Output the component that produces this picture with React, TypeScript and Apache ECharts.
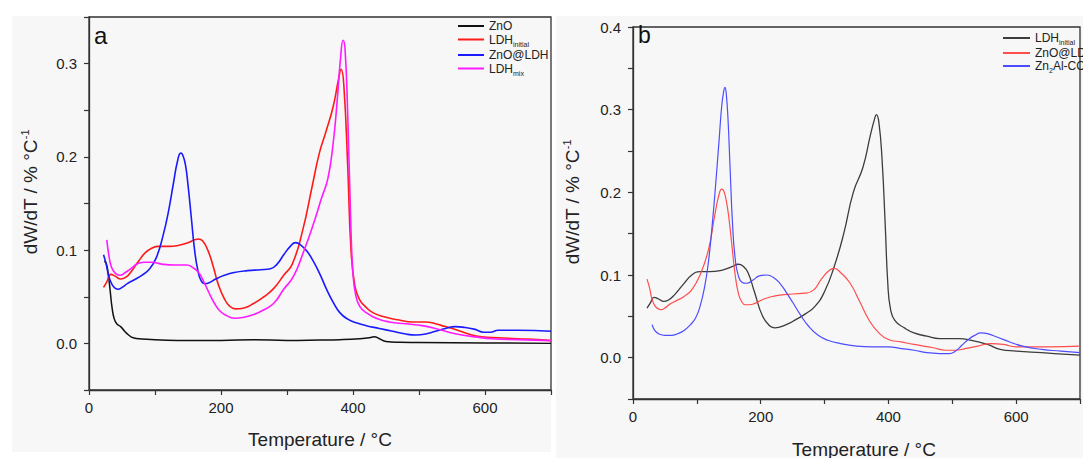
import React, { useEffect, useRef } from "react";
import * as echarts from "echarts";

const FONT = "'Liberation Sans', Arial, Helvetica, sans-serif";

// ---------- Panel a ----------
const aZnOT = [23, 26, 29, 32, 35, 38, 42, 48, 54, 60, 67, 80, 100, 150, 200, 250, 300, 350, 380, 410, 425, 432, 440, 450, 470, 500, 600, 700];
const aZnOV = [0.088, 0.086, 0.075, 0.057, 0.038, 0.027, 0.021, 0.018, 0.013, 0.009, 0.006, 0.0047, 0.004, 0.003, 0.003, 0.004, 0.003, 0.0035, 0.004, 0.005, 0.006, 0.007, 0.005, 0.002, 0.0012, 0.001, 0.0005, 0.0];

const aLdhIT = [22, 27, 33, 40, 48, 56, 65, 75, 85, 95, 105, 120, 135, 150, 160, 166, 172, 180, 188, 196, 205, 213, 222, 235, 250, 265, 280, 295, 308, 324, 338, 349, 359, 370, 378, 382, 386, 392, 397, 403, 410, 418, 430, 450, 470, 490, 510, 525, 540, 555, 575, 595, 620, 650, 680, 700];
const aLdhIV = [0.06, 0.066, 0.074, 0.072, 0.069, 0.071, 0.078, 0.088, 0.097, 0.102, 0.104, 0.104, 0.105, 0.108, 0.111, 0.112, 0.11, 0.1, 0.083, 0.063, 0.048, 0.04, 0.037, 0.038, 0.043, 0.05, 0.059, 0.073, 0.085, 0.122, 0.168, 0.204, 0.227, 0.254, 0.283, 0.294, 0.278, 0.19, 0.1, 0.061, 0.047, 0.04, 0.033, 0.028, 0.025, 0.023, 0.023, 0.021, 0.018, 0.015, 0.01, 0.007, 0.006, 0.005, 0.004, 0.003];

const aZnOLdhT = [22, 26, 30, 35, 40, 44, 50, 58, 68, 80, 92, 102, 112, 120, 128, 134, 139, 142, 146, 150, 155, 160, 165, 170, 176, 182, 192, 205, 220, 240, 260, 275, 285, 295, 305, 313, 320, 330, 340, 350, 360, 370, 380, 392, 405, 420, 440, 460, 480, 495, 510, 525, 540, 555, 570, 585, 598, 608, 620, 650, 700];
const aZnOLdhV = [0.095, 0.085, 0.072, 0.063, 0.059, 0.058, 0.06, 0.064, 0.068, 0.073, 0.08, 0.092, 0.115, 0.14, 0.172, 0.195, 0.204, 0.202, 0.192, 0.17, 0.135, 0.1, 0.078, 0.067, 0.064, 0.065, 0.069, 0.073, 0.076, 0.078, 0.079, 0.08, 0.085, 0.095, 0.104, 0.108, 0.106, 0.099, 0.088, 0.074, 0.058, 0.044, 0.033, 0.026, 0.022, 0.019, 0.016, 0.013, 0.01, 0.009, 0.01, 0.013, 0.016, 0.018, 0.017, 0.015, 0.012, 0.012, 0.014, 0.014, 0.013];

const aLdhMT = [27, 30, 34, 40, 47, 55, 65, 75, 85, 95, 110, 130, 148, 158, 166, 174, 182, 190, 198, 208, 220, 235, 250, 265, 280, 295, 310, 325, 340, 352, 362, 370, 376, 381, 385, 388, 392, 397, 400, 404, 410, 420, 435, 455, 480, 505, 525, 545, 565, 585, 610, 650, 700];
const aLdhMV = [0.111, 0.095, 0.082, 0.075, 0.073, 0.076, 0.081, 0.086, 0.087, 0.087, 0.085, 0.084, 0.084, 0.081, 0.076, 0.066, 0.054, 0.043, 0.035, 0.03, 0.027, 0.028, 0.031, 0.036, 0.043, 0.058, 0.072, 0.098, 0.128, 0.155, 0.177, 0.215, 0.26, 0.305, 0.325, 0.315, 0.245, 0.12, 0.075, 0.052, 0.04, 0.033, 0.027, 0.023, 0.021, 0.019, 0.016, 0.012, 0.009, 0.007, 0.005, 0.004, 0.003];

// ---------- Panel b ----------
const bLdhIT = [22, 27, 33, 40, 48, 56, 65, 78, 92, 105, 120, 140, 155, 165, 172, 180, 190, 203, 215, 222, 240, 255, 270, 285, 300, 315, 330, 345, 360, 372, 378, 381, 385, 390, 395, 399, 403, 410, 425, 440, 460, 480, 510, 530, 555, 575, 600, 640, 680, 700];
const bLdhIV = [0.06, 0.066, 0.073, 0.071, 0.068, 0.07, 0.076, 0.088, 0.1, 0.104, 0.104, 0.106, 0.11, 0.113, 0.111, 0.103, 0.08, 0.05, 0.038, 0.036, 0.04, 0.046, 0.053, 0.062, 0.08, 0.11, 0.15, 0.2, 0.23, 0.27, 0.288, 0.294, 0.285, 0.24, 0.16, 0.09, 0.06, 0.045, 0.036, 0.03, 0.026, 0.023, 0.023, 0.021, 0.016, 0.01, 0.008, 0.006, 0.004, 0.003];

const bZnOLdhT = [22, 26, 30, 35, 40, 44, 50, 58, 68, 80, 92, 105, 118, 128, 134, 139, 142, 146, 150, 155, 160, 165, 170, 176, 182, 192, 205, 225, 250, 270, 283, 295, 308, 315, 325, 340, 355, 370, 385, 400, 420, 440, 470, 490, 505, 520, 540, 560, 580, 600, 650, 700];
const bZnOLdhV = [0.095, 0.084, 0.07, 0.062, 0.059, 0.058, 0.06, 0.065, 0.069, 0.074, 0.082, 0.1, 0.13, 0.172, 0.195, 0.204, 0.202, 0.19, 0.17, 0.135, 0.1, 0.078, 0.068, 0.064, 0.064, 0.066, 0.071, 0.075, 0.077, 0.078, 0.082, 0.095, 0.106, 0.108, 0.103, 0.09, 0.068, 0.045, 0.03, 0.022, 0.019, 0.016, 0.012, 0.009, 0.009, 0.011, 0.014, 0.017, 0.016, 0.013, 0.013, 0.014];

const bZnAlT = [30, 34, 40, 50, 60, 70, 80, 90, 98, 105, 112, 118, 124, 130, 135, 139, 142, 144, 146, 149, 152, 156, 160, 165, 171, 178, 188, 198, 210, 220, 230, 240, 250, 262, 275, 290, 305, 325, 350, 375, 400, 420, 440, 460, 480, 495, 505, 515, 525, 535, 545, 555, 570, 590, 610, 640, 670, 700];
const bZnAlV = [0.04, 0.033, 0.029, 0.027, 0.027, 0.029, 0.033, 0.04, 0.048, 0.062, 0.085, 0.115, 0.16, 0.215, 0.265, 0.305, 0.322, 0.327, 0.32, 0.285, 0.23, 0.16, 0.12, 0.099, 0.091, 0.09, 0.094, 0.099, 0.1, 0.097, 0.09, 0.079, 0.067, 0.052, 0.038, 0.027, 0.021, 0.017, 0.014, 0.013, 0.013, 0.011, 0.009, 0.006, 0.005, 0.005, 0.008, 0.015, 0.022, 0.027, 0.03, 0.029, 0.025, 0.019, 0.014, 0.01, 0.008, 0.006];

const xTicksLabelled = [0, 200, 400, 600];

const zip = (xs: number[], ys: number[]) => xs.map((x, i) => [x, ys[i]]);

const legendLabels: Record<string, string> = {
  a_ZnO: "{m|ZnO}",
  a_LDHi: "{m|LDH}{s|initial}",
  a_ZnOLDH: "{m|ZnO@LDH}",
  a_LDHm: "{m|LDH}{s|mix}",
  b_LDHi: "{m|LDH}{s|initial}",
  b_ZnOLDH: "{m|ZnO@LDH}",
  b_ZnAl: "{m|Zn}{s|2}{m|Al-CO}{s|3}",
};

const legendRich = {
  m: { fontSize: 12, fontFamily: FONT, color: "#222", lineHeight: 16 },
  s: { fontSize: 7, fontFamily: FONT, color: "#222", lineHeight: 6, verticalAlign: "bottom" },
};

function makeX(gridIndex: number) {
  return {
    type: "value",
    gridIndex,
    min: 0,
    max: 700,
    interval: 100,
    axisLine: { onZero: false, lineStyle: { color: "#333", width: 1.3 } },
    axisTick: { inside: false, length: 5, lineStyle: { color: "#333", width: 1.2 } },
    splitLine: { show: false },
    axisLabel: {
      margin: 10,
      fontSize: 15,
      fontFamily: FONT,
      color: "#222",
      formatter: (v: number) => (xTicksLabelled.includes(v) ? String(v) : ""),
    },
  };
}

function makeY(gridIndex: number, max: number) {
  return {
    type: "value",
    gridIndex,
    min: -0.05,
    max,
    interval: 0.05,
    axisLine: { onZero: false, lineStyle: { color: "#333", width: 1.3 } },
    axisTick: { inside: false, length: 5, lineStyle: { color: "#333", width: 1.2 } },
    splitLine: { show: false },
    axisLabel: {
      margin: 12,
      fontSize: 15,
      fontFamily: FONT,
      color: "#222",
      formatter: (v: number) => {
        const t = Math.round(v * 100);
        if (t < 0 || t % 10 !== 0) return "";
        return (t / 100).toFixed(1);
      },
    },
  };
}

function line(name: string, xi: number, xs: number[], ys: number[], color: string, width: number) {
  return {
    type: "line",
    name,
    xAxisIndex: xi,
    yAxisIndex: xi,
    data: zip(xs, ys),
    showSymbol: false,
    symbol: "none",
    smooth: 0.5,
    lineStyle: { color, width, join: "round" },
    itemStyle: { color },
  };
}

const yTitleRich = {
  m: { fontSize: 19, fontFamily: FONT, fill: "#222", color: "#222", lineHeight: 22 },
  sup: { fontSize: 11, fontFamily: FONT, fill: "#222", color: "#222", lineHeight: 11, verticalAlign: "top" },
};

export default function App() {
  const ref = useRef<HTMLDivElement>(null);
  useEffect(() => {
    if (!ref.current) return;
    const chart = echarts.init(ref.current, undefined, { renderer: "svg" });
    const option: any = {
      animation: false,
      backgroundColor: "#ffffff",
      graphic: [
        { type: "rect", z: -10, silent: true, shape: { x: 12, y: 16, width: 539, height: 436 }, style: { fill: "#f7f7f7" } },
        { type: "rect", z: -10, silent: true, shape: { x: 556, y: 16, width: 527, height: 442 }, style: { fill: "#f7f7f7" } },
        { type: "text", x: 94, y: 35, style: { text: "a", fontSize: 24, fontFamily: FONT, fill: "#111", align: "left", verticalAlign: "middle" } },
        { type: "text", x: 638, y: 35, style: { text: "b", fontSize: 23, fontFamily: FONT, fill: "#111", align: "left", verticalAlign: "middle" } },
        { type: "text", x: 320, y: 439, style: { text: "Temperature / °C", fontSize: 19, fontFamily: FONT, fill: "#222", align: "center", verticalAlign: "middle" } },
        { type: "text", x: 864, y: 449, style: { text: "Temperature / °C", fontSize: 19, fontFamily: FONT, fill: "#222", align: "center", verticalAlign: "middle" } },
        {
          type: "text", x: 30, y: 192, rotation: Math.PI / 2,
          style: { text: "{m|dW/dT / % °C}{sup|-1}", rich: yTitleRich, align: "center", verticalAlign: "middle", fill: "#222" },
        },
        {
          type: "text", x: 572, y: 202, rotation: Math.PI / 2,
          style: { text: "{m|dW/dT / % °C}{sup|-1}", rich: yTitleRich, align: "center", verticalAlign: "middle", fill: "#222" },
        },
      ],
      grid: [
        { left: 89, top: 17, width: 462, height: 373, show: true, borderColor: "#333", borderWidth: 1.3, backgroundColor: "transparent" },
        { left: 633, top: 27, width: 463, height: 372, show: true, borderColor: "#333", borderWidth: 1.3, backgroundColor: "transparent" },
      ],
      xAxis: [makeX(0), makeX(1)],
      yAxis: [makeY(0, 0.35), makeY(1, 0.4)],
      legend: [
        {
          left: 453, top: 15, orient: "vertical", icon: "rect", itemWidth: 26, itemHeight: 2, itemGap: 1.5,
          selectedMode: false,
          data: ["a_ZnO", "a_LDHi", "a_ZnOLDH", "a_LDHm"],
          formatter: (n: string) => legendLabels[n],
          textStyle: { rich: legendRich, fontSize: 12, fontFamily: FONT, color: "#222" },
        },
        {
          left: 998, top: 27, orient: "vertical", icon: "rect", itemWidth: 27, itemHeight: 2, itemGap: 1,
          selectedMode: false,
          data: ["b_LDHi", "b_ZnOLDH", "b_ZnAl"],
          formatter: (n: string) => legendLabels[n],
          textStyle: { rich: legendRich, fontSize: 12, fontFamily: FONT, color: "#222" },
        },
      ],
      series: [
        line("a_ZnO", 0, aZnOT, aZnOV, "#111111", 1.5),
        line("a_LDHi", 0, aLdhIT, aLdhIV, "#ff1a1a", 1.6),
        line("a_ZnOLDH", 0, aZnOLdhT, aZnOLdhV, "#1a1aff", 1.6),
        line("a_LDHm", 0, aLdhMT, aLdhMV, "#ff1aff", 1.6),
        line("b_LDHi", 1, bLdhIT, bLdhIV, "#3c3c3c", 1.3),
        line("b_ZnOLDH", 1, bZnOLdhT, bZnOLdhV, "#ff4d4d", 1.2),
        line("b_ZnAl", 1, bZnAlT, bZnAlV, "#4d4dff", 1.2),
      ],
    };
    chart.setOption(option);
    return () => chart.dispose();
  }, []);
  return (
    <div style={{ position: "fixed", left: 0, top: 0, width: 1083, height: 458, overflow: "hidden" }}>
      <div ref={ref} style={{ width: 1083, height: 458 }} />
    </div>
  );
}
